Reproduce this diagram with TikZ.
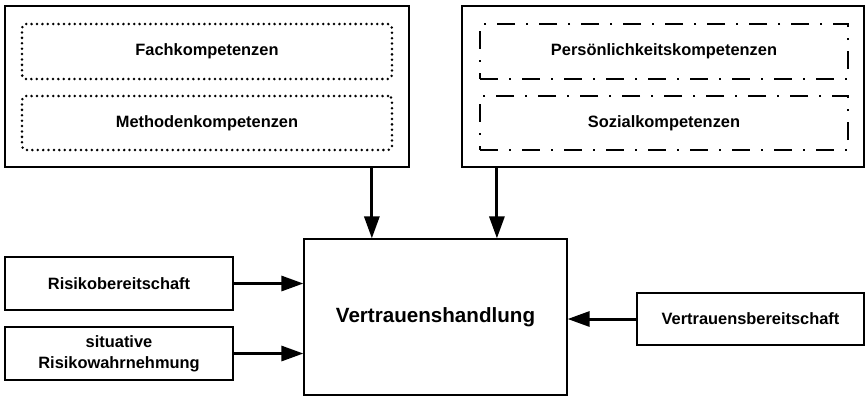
\documentclass[tikz,border=0pt]{standalone}
\usepackage{fontspec}
\setmainfont{Liberation Sans}
\usetikzlibrary{arrows.meta}
\begin{document}
\begin{tikzpicture}[x=0.5pt,y=-0.5pt]
		\tikzstyle{box}=[draw,line width=0.6pt,inner sep=0pt,align=center,font=\fontsize{8.2}{10.5}\selectfont\bfseries]
		\tikzstyle{punkt}=[box,line width=1.4pt,line cap=round,dash pattern=on 0pt off 2.7pt,rounded corners=2pt]
		\tikzstyle{strichpunkt}=[box,line width=1.4pt,dash pattern=on 9pt off 5.5pt on 1pt off 5.5pt]
		\tikzstyle{pfeil}=[line width=1.5pt,-{Triangle[length=11pt,width=7.5pt]}]
		\useasboundingbox (0,0) rectangle (866,398);
		% obere Kompetenzbloecke
		\node[box,minimum width=202pt,minimum height=80.5pt] (fachlich) at (207,86.5) {};
		\node[punkt,minimum width=185pt,minimum height=27.5pt] (fach) at (207,51.5) {Fachkompetenzen};
		\node[punkt,minimum width=185pt,minimum height=27pt] (methoden) at (207,123) {Methodenkompetenzen};
		\node[box,minimum width=201pt,minimum height=80.5pt] (persoenlich) at (663,86.5) {};
		\node[strichpunkt,minimum width=184pt,minimum height=27.5pt] (pers) at (664,51.5) {Persönlichkeitskompetenzen};
		\node[strichpunkt,minimum width=184pt,minimum height=27pt] (sozial) at (664,123) {Sozialkompetenzen};
		% Handlung und Einflussgroessen
		\node[box,minimum width=131.5pt,minimum height=78pt,font=\fontsize{10.3}{12}\selectfont\bfseries] (handlung) at (435.5,317) {Vertrauenshandlung};
		\node[box,minimum width=114pt,minimum height=26.5pt] (risiko) at (119,283.5) {Risikobereitschaft};
		\node[box,minimum width=114pt,minimum height=26.5pt] (situativ) at (119,353.5) {situative\\Risikowahrnehmung};
		\node[box,minimum width=113.5pt,minimum height=26pt] (vbereit) at (750.5,319) {Vertrauensbereitschaft};
		% Pfeile
		\draw[pfeil] (fachlich.south -| handlung.129) -- (handlung.129);
		\draw[pfeil] (persoenlich.south -| handlung.52) -- (handlung.52);
		\draw[pfeil] (risiko.east) -- (risiko.east -| handlung.west);
		\draw[pfeil] (situativ.east) -- (situativ.east -| handlung.west);
		\draw[pfeil] (vbereit.west) -- (vbereit.west -| handlung.east);
	\end{tikzpicture}
\end{document}
